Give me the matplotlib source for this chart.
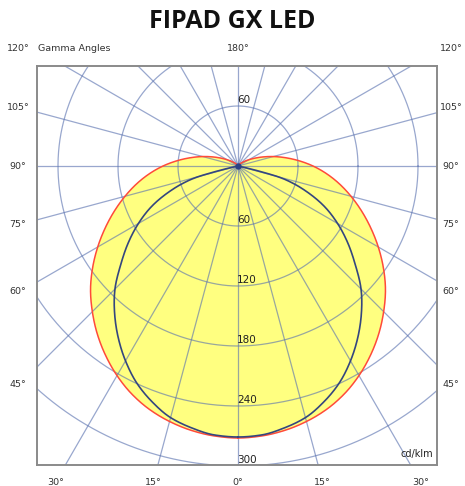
import numpy as np
import matplotlib
matplotlib.use("Agg")
import matplotlib.pyplot as plt

# ---- data (cd/klm vs gamma angle, symmetric planes) ----
gamma_c0 = [0, 5, 10, 15, 20, 25, 30, 35, 40, 45, 50, 55, 60, 65, 70, 75, 80, 85,
            90, 95, 100, 105, 110, 115, 120, 125, 130, 140, 150, 160, 170, 180]
plane_c0 = [272, 271, 268.5, 264.5, 259, 251.5, 242, 231, 219, 206, 192.5, 177.5, 162, 146.5, 131.5, 117, 103, 89,
            75, 61, 48, 36.5, 26.5, 18.5, 12.5, 8.5, 5.5, 2.5, 1, 0.3, 0, 0]
gamma_c90 = [0, 5, 10, 15, 20, 25, 30, 35, 40, 45, 50, 55, 60, 65, 70, 72.5, 75, 76, 77, 78, 80, 90, 180]
plane_c90 = [271, 270, 266, 260.5, 251, 239.5, 225, 209, 192, 174, 153, 134, 115, 95, 71, 58, 41, 25, 11, 2, 0, 0, 0]
ring_values = [60, 120, 180, 240, 300]
ray_angles = list(range(0, 360, 15))
side_labels = [45, 60, 75, 90, 105, 120]
bottom_labels = [0, 15, 30]
title = "FIPAD GX LED"
unit_label = "cd/klm"
angle_caption = "Gamma Angles"

W, H = 465, 486
fig = plt.figure(figsize=(W / 100, H / 100), dpi=100)
ax = fig.add_axes([37 / W, 21 / H, 400 / W, 399 / H])
ax.set_xlim(-201, 199)
ax.set_ylim(-299, 100)
ax.set_xticks([])
ax.set_yticks([])
for s in ax.spines.values():
    s.set_color('#8a8a8a')
    s.set_linewidth(1.4)


def pchip(x, y, xn):
    """Monotone cubic (Fritsch-Carlson) rendering of a sampled curve."""
    x = np.asarray(x, float)
    y = np.asarray(y, float)
    h = np.diff(x)
    d = np.diff(y) / h
    m = np.zeros_like(y)
    for k in range(1, len(y) - 1):
        if d[k - 1] * d[k] > 0:
            w1 = 2 * h[k] + h[k - 1]
            w2 = h[k] + 2 * h[k - 1]
            m[k] = (w1 + w2) / (w1 / d[k - 1] + w2 / d[k])
    idx = np.clip(np.searchsorted(x, xn) - 1, 0, len(x) - 2)
    t = (xn - x[idx]) / h[idx]
    h00 = 2 * t**3 - 3 * t**2 + 1
    h10 = t**3 - 2 * t**2 + t
    h01 = -2 * t**3 + 3 * t**2
    h11 = t**3 - t**2
    return h00 * y[idx] + h10 * h[idx] * m[idx] + h01 * y[idx + 1] + h11 * h[idx] * m[idx + 1]


def polar_xy(g_deg, r):
    g = np.radians(np.asarray(g_deg, dtype=float))
    r = np.asarray(r, dtype=float)
    return r * np.sin(g), -r * np.cos(g)


def full_curve(g, vals):
    gf = np.linspace(0, 180, 1441)
    vf = np.maximum(pchip(g, vals, gf), 0)
    gg = np.concatenate([gf, 360 - gf[::-1]])
    vv = np.concatenate([vf, vf[::-1]])
    return polar_xy(gg, vv)


# filled C0 plane
xr, yr = full_curve(gamma_c0, plane_c0)
ax.fill(xr, yr, color='#ffff80', zorder=1, lw=0)

# grid
grid_col = '#5a72b0'
t = np.linspace(0, 2 * np.pi, 721)
for rv in ring_values:
    ax.plot(rv * np.cos(t), rv * np.sin(t), color=grid_col, lw=0.9, alpha=0.62, zorder=2)
for a in ray_angles:
    x2, y2 = polar_xy(a, 700)
    ax.plot([0, x2], [0, y2], color=grid_col, lw=0.9, alpha=0.62, zorder=2)

ax.plot(xr, yr, color='#ff4a3a', lw=1.1, zorder=3)
xb, yb = full_curve(gamma_c90, plane_c90)
ax.plot(xb, yb, color='#34467f', lw=1.2, zorder=4)
ax.plot([0], [0], marker='o', ms=3.5, color='#2a3f86', zorder=5)

# ring labels
lab_kw = dict(fontsize=7.5, color='#222222', ha='left', va='bottom', zorder=6)
ax.text(-1, ring_values[0] + 1, str(ring_values[0]), **lab_kw)
for rv in ring_values:
    ax.text(-1, -rv + 1, str(rv), **lab_kw, clip_on=False)

# angle labels (outside the frame)
tick_kw = dict(fontsize=6.8, color='#333333', ha='center', va='center', clip_on=False)
for a in side_labels:
    yv = 0.0 if a == 90 else -218 / np.tan(np.radians(a))
    yv = float(np.clip(yv, -316, 118))
    ax.text(-220, yv, f"{a}°", **tick_kw)
    ax.text(213, yv, f"{a}°", **tick_kw)
for a in bottom_labels:
    xv = 316 * np.tan(np.radians(a))
    for sgn in ((-1, 1) if a else (1,)):
        ax.text(sgn * xv, -316, f"{a}°", **tick_kw)
ax.text(0, 118, "180°", **tick_kw)
ax.text(-200, 118, angle_caption, fontsize=6.8, color='#333333', ha='left', va='center', clip_on=False)
ax.text(195, -288, unit_label, fontsize=7, color='#222222', ha='right', va='center')

fig.text(232 / W, 1 - 21 / H, title, fontsize=18, fontweight='bold', family=['Open Sans', 'DejaVu Sans'],
         ha='center', va='center', color='#111111')

fig.savefig('out.png', dpi=100)
